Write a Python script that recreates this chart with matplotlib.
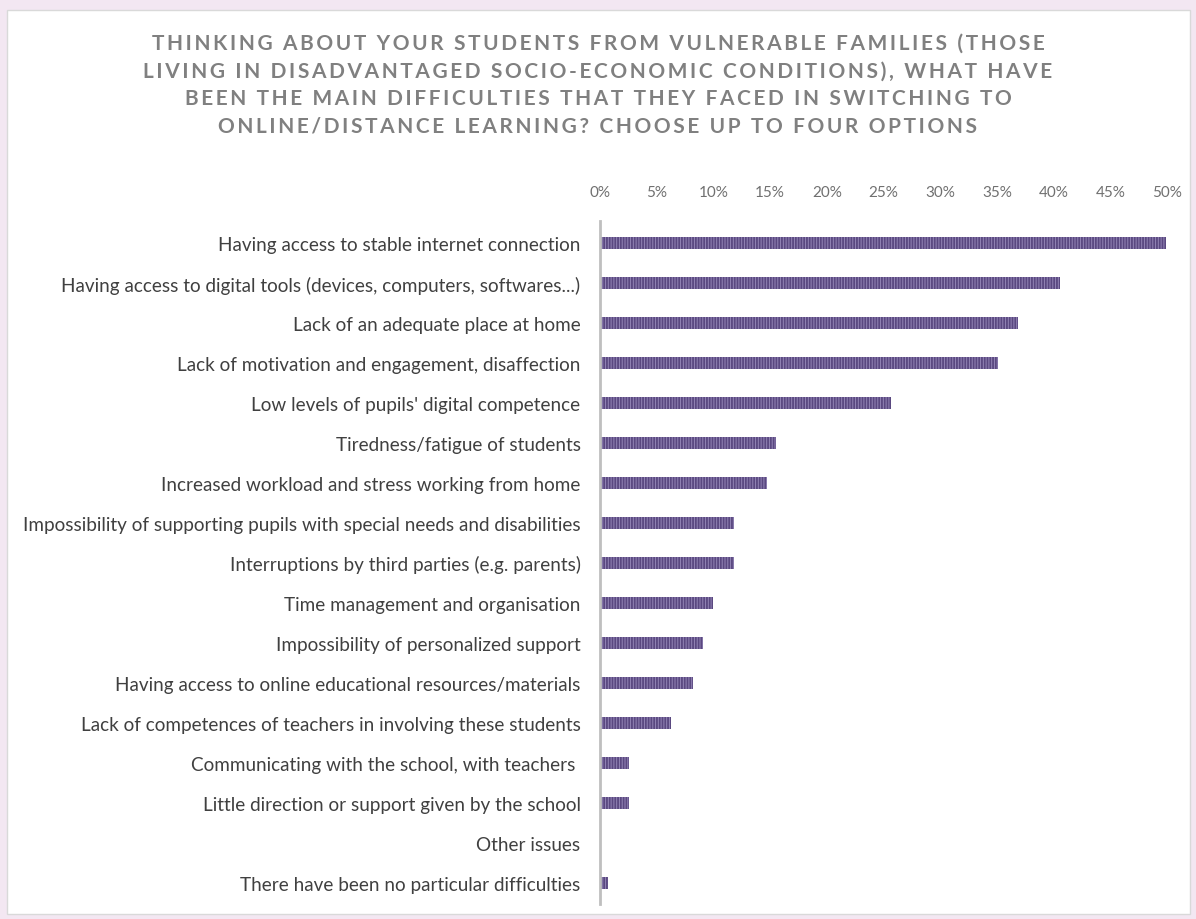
import matplotlib.pyplot as plt
from matplotlib.patches import Rectangle
from matplotlib.ticker import PercentFormatter

# ------------------------------------------------------------
# Data
# ------------------------------------------------------------

categories = [
    "Having access to stable internet connection",
    "Having access to digital tools (devices, computers, softwares...)",
    "Lack of an adequate place at home",
    "Lack of motivation and engagement, disaffection",
    "Low levels of pupils' digital competence",
    "Tiredness/fatigue of students",
    "Increased workload and stress working from home",
    "Impossibility of supporting pupils with special needs and disabilities",
    "Interruptions by third parties (e.g. parents)",
    "Time management and organisation",
    "Impossibility of personalized support",
    "Having access to online educational resources/materials",
    "Lack of competences of teachers in involving these students",
    "Communicating with the school, with teachers ",
    "Little direction or support given by the school",
    "Other issues",
    "There have been no particular difficulties",
]

shares = [
    0.499, 0.406, 0.369, 0.351, 0.257, 0.155, 0.147, 0.118, 0.118,
    0.100, 0.091, 0.082, 0.063, 0.026, 0.026, 0.0, 0.007,
]

xticks = [0.0, 0.05, 0.10, 0.15, 0.20, 0.25, 0.30, 0.35, 0.40, 0.45, 0.50]

title_lines = [
    "THINKING ABOUT YOUR STUDENTS FROM VULNERABLE FAMILIES (THOSE",
    "LIVING IN DISADVANTAGED SOCIO-ECONOMIC CONDITIONS), WHAT HAVE",
    "BEEN THE MAIN DIFFICULTIES THAT THEY FACED IN SWITCHING TO",
    "ONLINE/DISTANCE LEARNING? CHOOSE UP TO FOUR OPTIONS",
]


def spaced(text):
    # crude letter spacing with thin spaces
    return "\u2009".join(text)


plt.rcParams["font.family"] = ["Lato", "DejaVu Sans"]
plt.rcParams["hatch.linewidth"] = 1.3

fig = plt.figure(figsize=(11.96, 9.2), dpi=100)
fig.patch.set_facecolor("#F3E7F2")

# white chart panel, behind the axes
fig.patches.append(Rectangle(
    (7 / 1196, 5 / 920), 1183 / 1196, 904 / 920,
    transform=fig.transFigure, facecolor="white",
    edgecolor="#D9D9D9", linewidth=1.0, zorder=-10,
))

ax = fig.add_axes([600 / 1196, 1 - 905 / 920, 567 / 1196, (905 - 222) / 920])
ax.set_facecolor("none")
ax.set_zorder(5)

y_pos = list(range(len(categories)))
ax.barh(
    y_pos, shares, height=0.29,
    color="#9486B6", edgecolor="#5A4880", hatch="||||||", linewidth=0,
)

ax.set_xlim(0, 0.5)
ax.set_ylim(len(categories) - 0.47, -0.55)

ax.xaxis.tick_top()
ax.set_xticks(xticks)
ax.xaxis.set_major_formatter(PercentFormatter(1.0, decimals=0))
ax.tick_params(axis="x", length=0, pad=16, labelsize=11, labelcolor="#707070")

ax.set_yticks(y_pos)
ax.set_yticklabels(categories)
ax.tick_params(axis="y", length=0, pad=14, labelsize=13.6, labelcolor="#404040")

for side in ["top", "right", "bottom"]:
    ax.spines[side].set_visible(False)
ax.spines["left"].set_color("#BFBFBF")
ax.spines["left"].set_linewidth(2.0)

# title
for i, line in enumerate(title_lines):
    fig.text(
        598 / 1196, 1 - (44 + i * 27.5) / 920, spaced(line),
        ha="center", va="center", fontsize=15, fontweight="bold",
        color="#808080",
    )

fig.savefig("out.png", dpi=100, facecolor=fig.get_facecolor())
